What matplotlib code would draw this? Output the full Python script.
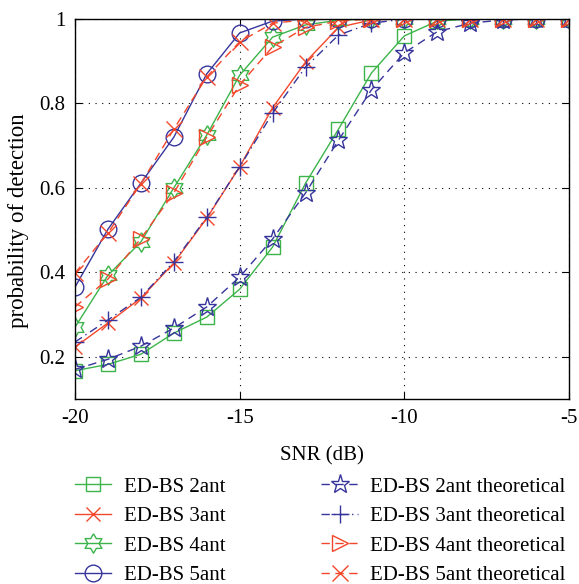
import matplotlib
matplotlib.use("Agg")
import matplotlib.pyplot as plt
import numpy as np

plt.rcParams['font.family'] = ['Liberation Serif', 'DejaVu Serif']
plt.rcParams['axes.unicode_minus'] = False

snr = list(range(-20, -4))

pd_2ant = [0.167, 0.182, 0.206, 0.256, 0.294, 0.36, 0.46, 0.611, 0.739, 0.872, 0.96, 0.995, 1, 1, 1, 1]
pd_2ant_th = [0.17, 0.194, 0.225, 0.268, 0.318, 0.389, 0.479, 0.588, 0.713, 0.832, 0.92, 0.97, 0.99, 0.998, 1, 1]
pd_3ant = [0.223, 0.28, 0.339, 0.422, 0.528, 0.65, 0.79, 0.898, 0.98, 0.998, 1, 1, 1, 1, 1, 1]
pd_3ant_th = [0.235, 0.287, 0.341, 0.425, 0.53, 0.65, 0.777, 0.886, 0.962, 0.99, 1, 1, 1, 1, 1, 1]
pd_4ant = [0.27, 0.393, 0.472, 0.6, 0.725, 0.867, 0.957, 0.986, 0.997, 1, 1, 1, 1, 1, 1, 1]
pd_4ant_th = [0.318, 0.384, 0.48, 0.588, 0.72, 0.844, 0.934, 0.98, 0.995, 1, 1, 1, 1, 1, 1, 1]
pd_5ant = [0.365, 0.502, 0.611, 0.72, 0.87, 0.967, 0.995, 1, 1, 1, 1, 1, 1, 1, 1, 1]
pd_5ant_th = [0.398, 0.493, 0.61, 0.739, 0.863, 0.946, 0.99, 0.998, 1, 1, 1, 1, 1, 1, 1, 1]

labels = ["ED-BS 2ant", "ED-BS 3ant", "ED-BS 4ant", "ED-BS 5ant",
          "ED-BS 2ant theoretical", "ED-BS 3ant theoretical",
          "ED-BS 4ant theoretical", "ED-BS 5ant theoretical"]

green = "#3cb44a"
red = "#f2472b"
blue = "#37359b"

# six-pointed star marker for the 4-antenna curve
ang = np.linspace(0, 2*np.pi, 13)[:-1] + np.pi/2
rad = np.where(np.arange(12) % 2 == 0, 1.0, 0.58)
hexstar = list(zip(rad*np.cos(ang), rad*np.sin(ang)))
hexstar.append(hexstar[0])

fig = plt.figure(figsize=(5.79, 5.84), dpi=100)
ax = fig.add_axes([75/579, 1-399/584, (569-75)/579, (399-19)/584])

dash = (0, (6, 4))
series = [
    (pd_2ant, dict(color=green, marker='s', ls='-', ms=10)),
    (pd_3ant, dict(color=red, marker='x', ls='-', ms=10)),
    (pd_4ant, dict(color=green, marker=hexstar, ls='-', ms=14)),
    (pd_5ant, dict(color=blue, marker='o', ls='-', ms=12)),
    (pd_2ant_th, dict(color=blue, marker='*', ls=dash, ms=14)),
    (pd_3ant_th, dict(color=blue, marker='+', ls=(0, (6, 3, 1, 3)), ms=13)),
    (pd_4ant_th, dict(color=red, marker='>', ls=dash, ms=12)),
    (pd_5ant_th, dict(color=red, marker='x', ls=dash, ms=11)),
]

handles = []
for (vals, st), lab in zip(series, labels):
    h, = ax.plot(snr, vals, mfc='none', lw=1.0, mew=1.0, label=lab, **st)
    handles.append(h)

ax.set_xlim(-20, -5)
ax.set_ylim(0.1, 1.0)
ax.set_xticks([-20, -15, -10, -5])
ax.set_yticks([0.2, 0.4, 0.6, 0.8, 1.0])
ax.set_yticklabels(["0.2", "0.4", "0.6", "0.8", "1"])
ax.grid(True, color='black', ls=(0, (1, 5)), lw=0.8)
ax.tick_params(direction='in', top=True, right=True, labelsize=15, length=5,
               width=0.8, pad=7)
for s in ax.spines.values():
    s.set_linewidth(1.0)
ax.set_xlabel("SNR (dB)", fontsize=15)
ax.xaxis.set_label_coords(0.5, -0.125)
ax.set_ylabel("probability of detection", fontsize=16.5)
ax.yaxis.set_label_coords(-0.093, 0.47)

fig.legend(handles=handles, loc='upper left',
           bbox_to_anchor=(75/579, 1-477/584), ncol=2, frameon=False,
           fontsize=15, handlelength=1.75, handletextpad=0.6,
           columnspacing=4.6, labelspacing=0.48, borderaxespad=0, borderpad=0)

fig.savefig("out.png", dpi=100)
